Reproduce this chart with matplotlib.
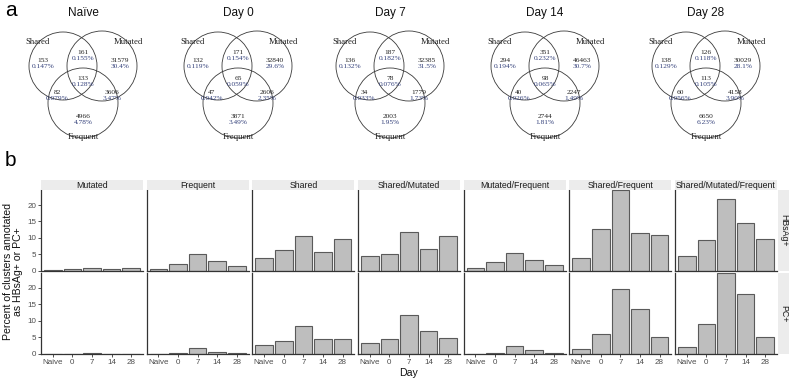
import numpy as np
import matplotlib
matplotlib.use("Agg")
import matplotlib.pyplot as plt
from matplotlib.patches import Circle

W, H = 789, 380
SANS = "Liberation Sans"
SERIF = "Liberation Serif"

# ---- panel a: venn counts per timepoint ----
# region order: Shared only, Shared/Mutated, Mutated only, all three,
# Shared/Frequent, Mutated/Frequent, Frequent only
venn_titles = ["Naïve", "Day 0", "Day 7", "Day 14", "Day 28"]
venn_counts = [
    [153, 161, 31579, 133, 82, 3606, 4966],
    [132, 171, 32840, 65, 47, 2606, 3871],
    [136, 187, 32385, 78, 34, 1779, 2003],
    [294, 351, 46463, 98, 40, 2247, 2744],
    [138, 126, 30029, 113, 60, 4158, 6650],
]
venn_pcts = [
    ["0.147%", "0.155%", "30.4%", "0.128%", "0.079%", "3.47%", "4.78%"],
    ["0.119%", "0.154%", "29.6%", "0.059%", "0.042%", "2.35%", "3.49%"],
    ["0.132%", "0.182%", "31.5%", "0.076%", "0.033%", "1.73%", "1.95%"],
    ["0.194%", "0.232%", "30.7%", "0.065%", "0.026%", "1.49%", "1.81%"],
    ["0.129%", "0.118%", "28.1%", "0.105%", "0.056%", "3.90%", "6.23%"],
]
set_names = ["Shared", "Mutated", "Frequent"]

# ---- panel b: percent annotated ----
days = ["Naive", "0", "7", "14", "28"]
groups = ["Mutated", "Frequent", "Shared", "Shared/Mutated",
          "Mutated/Frequent", "Shared/Frequent", "Shared/Mutated/Frequent"]
row_labels = ["HBsAg+", "PC+"]
hbsag_pct = [
    [0.2, 0.6, 0.8, 0.5, 0.7],
    [0.6, 2.1, 5.1, 3.1, 1.4],
    [3.8, 6.3, 10.7, 5.6, 9.8],
    [4.5, 5.1, 11.9, 6.5, 10.5],
    [0.8, 2.6, 5.5, 3.4, 1.8],
    [3.8, 12.7, 24.6, 11.6, 11.0],
    [4.6, 9.3, 21.9, 14.4, 9.8],
]
pc_pct = [
    [0.05, 0.05, 0.3, 0.1, 0.1],
    [0.1, 0.2, 1.8, 0.6, 0.2],
    [2.7, 3.9, 8.6, 4.5, 4.6],
    [3.3, 4.5, 11.9, 7.0, 4.8],
    [0.15, 0.3, 2.4, 1.2, 0.2],
    [1.6, 6.1, 19.6, 13.6, 5.1],
    [2.0, 9.1, 24.5, 18.3, 5.1],
]

fig = plt.figure(figsize=(W / 100, H / 100), dpi=100)


def px_axes(x0, y0, w, h):
    # pixel box (top-left origin) -> figure axes
    return fig.add_axes([x0 / W, 1 - (y0 + h) / H, w / W, h / H])


# venn layout (local pixels, y down)
circ_xy = [(-20, -11), (19, -11), (0, 26)]
circ_r = [34, 35, 35]
region_xy = [(-40, -17), (0, -25), (37, -17), (0, 2), (-26, 16), (29, 16), (0, 39)]
set_xy = [(-45, -35), (45, -35), (0, 60)]
venn_cx = [83, 238, 390, 545, 706]

for k in range(5):
    ax = px_axes(venn_cx[k] - 75, 0, 150, 160)
    ax.set_xlim(-75, 75)
    ax.set_ylim(83, -77)
    ax.axis("off")
    for (cx, cy), r in zip(circ_xy, circ_r):
        ax.add_patch(Circle((cx, cy), r, fill=False, ec="#3a3a3a", lw=0.6))
    for (x, y), n, p in zip(region_xy, venn_counts[k], venn_pcts[k]):
        ax.text(x, y, str(n), ha="center", va="center", fontsize=5.3,
                family=SERIF, color="#222222")
        ax.text(x, y + 6, p, ha="center", va="center", fontsize=5.3,
                family=SERIF, color="#33407a")
    for (x, y), name in zip(set_xy, set_names):
        ax.text(x, y, name, ha="center", va="center", fontsize=6.3,
                family=SERIF, color="#222222")
    ax.text(0, -64, venn_titles[k], ha="center", va="center", fontsize=8.5,
            family=SANS, color="#111111")

fig.text(5 / W, 1 - 11 / H, "a", fontsize=15, family=SANS, va="center", ha="left")
fig.text(5 / W, 1 - 161 / H, "b", fontsize=15, family=SANS, va="center", ha="left")

# bar facets
left, right = 41, 777
pw = 102
gap = (right - left - 7 * pw) / 6
rows_y = [(190, 80.7), (272.7, 81.3)]
ymax = 24.6
x = np.arange(len(days))
for r, data in enumerate([hbsag_pct, pc_pct]):
    y0, h = rows_y[r]
    for c, g in enumerate(groups):
        x0 = left + c * (pw + gap)
        ax = px_axes(x0, y0, pw, h)
        ax.bar(x, data[c], width=0.9, color="#bebebe", edgecolor="#5a5a5a", lw=0.8)
        ax.set_xlim(-0.6, 4.6)
        ax.set_ylim(0, ymax)
        for s in ["top", "right"]:
            ax.spines[s].set_visible(False)
        for s in ["left", "bottom"]:
            ax.spines[s].set_color("#333333")
            ax.spines[s].set_linewidth(0.9)
        ax.set_yticks([0, 5, 10, 15, 20])
        ax.set_xticks(x)
        ax.tick_params(length=2, width=0.6, color="#333333", labelsize=5.8,
                       labelcolor="#4d4d4d", pad=1.5)
        if c > 0:
            ax.tick_params(axis="y", left=False, labelleft=False)
        if r == 0:
            ax.tick_params(axis="x", bottom=False, labelbottom=False)
        else:
            ax.set_xticklabels(days, family=SANS)
        for t in ax.get_yticklabels():
            t.set_family(SANS)
        if r == 0:
            sax = px_axes(x0, 180, pw, 10)
            sax.set_facecolor("#ececec")
            sax.set_xticks([])
            sax.set_yticks([])
            for s in sax.spines.values():
                s.set_visible(False)
            sax.text(0.5, 0.5, g, ha="center", va="center", fontsize=6.3,
                     family=SANS, color="#1a1a1a", transform=sax.transAxes)
    rax = px_axes(778, y0, 11, h)
    rax.set_facecolor("#ececec")
    rax.set_xticks([])
    rax.set_yticks([])
    for s in rax.spines.values():
        s.set_visible(False)
    rax.text(0.5, 0.5, row_labels[r], ha="center", va="center", fontsize=6.3,
             rotation=-90, family=SANS, color="#1a1a1a", transform=rax.transAxes)

fig.text(13 / W, 1 - 272 / H, "Percent of clusters annotated\nas HBsAg+ or PC+",
         rotation=90, ha="center", va="center", fontsize=7.6, family=SANS,
         color="#111111", linespacing=1.0)
fig.text(409 / W, 1 - 373 / H, "Day", ha="center", va="center", fontsize=7.6,
         family=SANS, color="#111111")

fig.savefig("out.png", dpi=100)
